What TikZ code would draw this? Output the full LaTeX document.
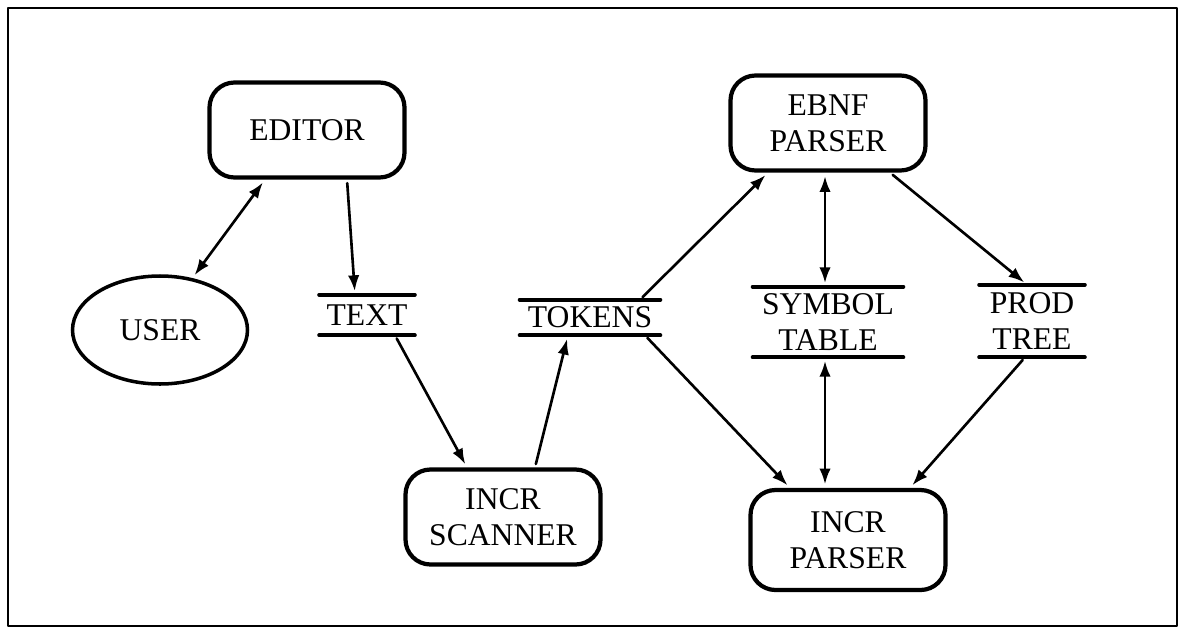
\documentclass[tikz,border=0pt]{standalone}
\usepackage{fontspec}
\setmainfont{Liberation Serif}
\usepackage{tikz}
\usetikzlibrary{shapes,arrows,arrows.meta}
\tikzset{>={Latex[length=9pt,width=6.5pt]}}
\tikzset{
	proc/.style={draw,line width=2.4pt,rounded corners=0.5cm,minimum width=3.9cm,minimum height=1.9cm,align=center,inner sep=0pt},
	ext/.style={draw,ellipse,line width=2pt,minimum width=3.5cm,minimum height=2.16cm,inner sep=0pt},
	store/.style={minimum height=0.8cm,align=center,inner sep=0pt},
	storeline/.style={line width=2.2pt},
	flow/.style={line width=1.5pt,shorten >=2pt,shorten <=2pt}
}

\begin{document}
\begin{tikzpicture}[line cap=round,line join=round,x=1.0cm,y=1.0cm,font=\fontsize{18}{20.5}\selectfont]
		\useasboundingbox (0,0) rectangle (23.68,12.6);
		\draw[line width=1.6pt] (0.16,0.08) rectangle (23.54,12.44);
		\node[proc] (editor) at (6.14,10.0) {EDITOR};
		\node[ext] (user) at (3.2,6.0) {USER};
		\node[store,minimum width=1.9cm] (text) at (7.34,6.3) {TEXT};
		\node[store,minimum width=2.8cm,minimum height=0.7cm] (tokens) at (11.8,6.25) {TOKENS};
		\node[store,minimum width=3.0cm,minimum height=1.4cm] (symtab) at (16.56,6.16) {SYMBOL\\TABLE};
		\node[store,minimum width=2.1cm,minimum height=1.44cm] (prodtree) at (20.64,6.18) {PROD\\TREE};
		\node[proc] (ebnf) at (16.56,10.14) {EBNF\\PARSER};
		\node[proc] (scanner) at (10.06,2.26) {INCR\\SCANNER};
		\node[proc,minimum height=2.0cm] (parser) at (16.96,1.8) {INCR\\PARSER};
		\foreach \s in {text,tokens,symtab,prodtree}
		\draw[storeline] (\s.north west) -- (\s.north east) (\s.south west) -- (\s.south east);
		\draw[flow,<->] (user.58) -- ([xshift=-0.84cm]editor.south);
		\draw[flow,->] ([xshift=0.8cm]editor.south) -- ([xshift=-0.24cm]text.north);
		\draw[flow,->] ([xshift=0.56cm]text.south) -- ([xshift=-0.72cm]scanner.north);
		\draw[flow,->] ([xshift=0.64cm]scanner.north) -- ([xshift=-0.44cm]tokens.south);
		\draw[flow,->] ([xshift=1.0cm]tokens.north) -- ([xshift=-1.2cm]ebnf.south);
		\draw[flow,<->] ([xshift=-0.06cm]ebnf.south) -- ([xshift=-0.06cm]symtab.north);
		\draw[flow,->] ([xshift=1.24cm]ebnf.south) -- ([xshift=-0.1cm]prodtree.north);
		\draw[flow,->] ([xshift=1.1cm]tokens.south) -- ([xshift=-1.16cm]parser.north);
		\draw[flow,<->] ([xshift=-0.06cm]symtab.south) -- ([xshift=-0.46cm]parser.north);
		\draw[flow,->] ([xshift=-0.14cm]prodtree.south) -- ([xshift=1.24cm]parser.north);
\end{tikzpicture}
\end{document}
